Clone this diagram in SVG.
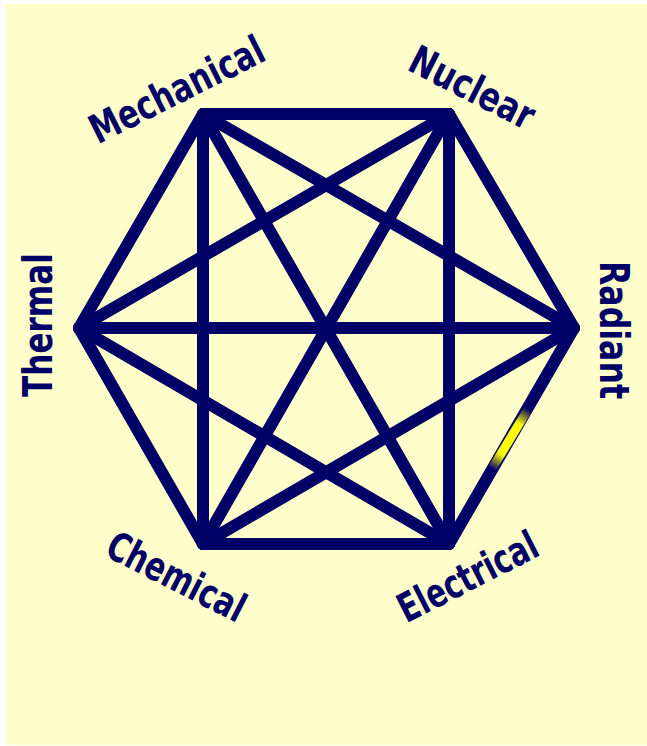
<svg xmlns="http://www.w3.org/2000/svg" width="647" height="746" viewBox="0 0 647 746">
<style>
.e{stroke:#000066;stroke-width:12;stroke-linecap:round;stroke-linejoin:round;fill:none}
.t{font-family:"DejaVu Sans","Liberation Sans",sans-serif;font-weight:bold;font-size:40px;fill:#000066;text-anchor:middle}
</style>
<defs>
<linearGradient id="hl" gradientUnits="userSpaceOnUse" x1="528" y1="409" x2="492" y2="469">
<stop offset="0" stop-color="#000066"/>
<stop offset="0.25" stop-color="#FFFF00"/>
<stop offset="0.75" stop-color="#FFFF00"/>
<stop offset="1" stop-color="#000066"/>
</linearGradient>
</defs>
<rect x="0" y="0" width="647" height="746" fill="#FFFFFF"/>
<rect x="6" y="4" width="641" height="741" fill="#FFFFCC"/>
<g id="connectors">
<line class="e" x1="203" y1="114" x2="449" y2="114"/>
<line class="e" x1="449" y1="114" x2="574" y2="328"/>
<line class="e" x1="574" y1="328" x2="449" y2="544"/>
<line class="e" x1="449" y1="544" x2="203" y2="544"/>
<line class="e" x1="203" y1="544" x2="79" y2="328"/>
<line class="e" x1="79" y1="328" x2="203" y2="114"/>
<line class="e" x1="203" y1="114" x2="574" y2="328"/>
<line class="e" x1="203" y1="114" x2="449" y2="544"/>
<line class="e" x1="203" y1="114" x2="203" y2="544"/>
<line class="e" x1="449" y1="114" x2="449" y2="544"/>
<line class="e" x1="449" y1="114" x2="203" y2="544"/>
<line class="e" x1="449" y1="114" x2="79" y2="328"/>
<line class="e" x1="574" y1="328" x2="203" y2="544"/>
<line class="e" x1="574" y1="328" x2="79" y2="328"/>
<line class="e" x1="449" y1="544" x2="79" y2="328"/>
<line x1="527" y1="411" x2="493" y2="467" stroke="url(#hl)" stroke-width="9" stroke-linecap="round"/>
</g>
<g id="mechanical"><text class="t" transform="translate(183,102) rotate(-26.6)" textLength="190" lengthAdjust="spacingAndGlyphs">Mechanical</text></g>
<g id="nuclear"><text class="t" transform="translate(466,100) rotate(27)" textLength="135" lengthAdjust="spacingAndGlyphs">Nuclear</text></g>
<g id="radiant"><text class="t" transform="translate(600,330) rotate(90)" textLength="138" lengthAdjust="spacingAndGlyphs">Radiant</text></g>
<g id="thermal"><text class="t" transform="translate(52,325) rotate(-90)" textLength="144" lengthAdjust="spacingAndGlyphs">Thermal</text></g>
<g id="chemical"><text class="t" transform="translate(170,589) rotate(27)" textLength="150" lengthAdjust="spacingAndGlyphs">Chemical</text></g>
<g id="electrical"><text class="t" transform="translate(474,589) rotate(-27)" textLength="152" lengthAdjust="spacingAndGlyphs">Electrical</text></g>
</svg>
